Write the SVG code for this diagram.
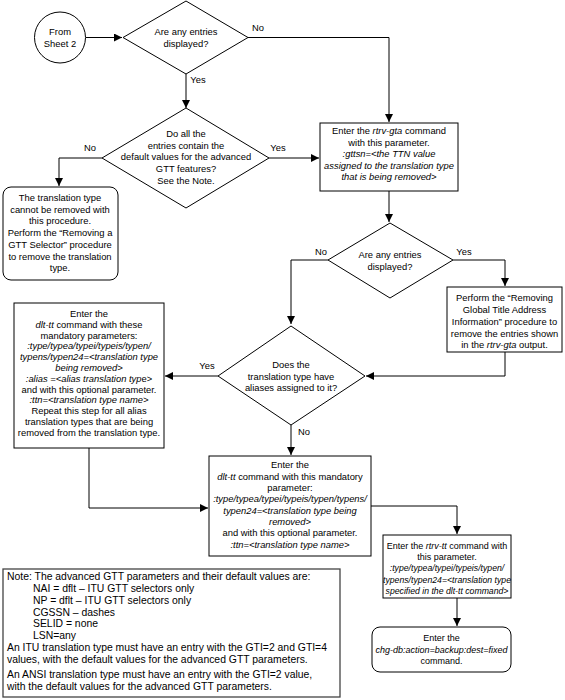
<svg xmlns="http://www.w3.org/2000/svg" width="565" height="700" viewBox="0 0 565 700">
<style>
text{font-family:"Liberation Sans",Arial,sans-serif;font-size:9.4px;fill:#000}
.c{text-anchor:middle}
.i{font-style:italic}
.n{font-size:10.4px}
.t{font-size:9px}
.u{font-size:8.7px}
.s{fill:#fff;stroke:#000;stroke-width:1}
.l{fill:none;stroke:#000;stroke-width:1}
</style>
<defs>
<marker id="a" viewBox="0 0 10 10" refX="10" refY="5" markerWidth="8" markerHeight="8" markerUnits="userSpaceOnUse" orient="auto">
<path d="M0,0 L10,5 L0,10 z" fill="#000"/>
</marker>
</defs>
<g id="connectors">
<path class="l" d="M86,37.5 L122,37.5" marker-end="url(#a)"/>
<path class="l" d="M248,37.5 L389,37.5 L389,122" marker-end="url(#a)"/>
<path class="l" d="M186,74 L186,108" marker-end="url(#a)"/>
<path class="l" d="M102,158 L59,158 L59,186" marker-end="url(#a)"/>
<path class="l" d="M269,158 L319,158" marker-end="url(#a)"/>
<path class="l" d="M389,191 L389,222" marker-end="url(#a)"/>
<path class="l" d="M328,260 L291,260 L291,324" marker-end="url(#a)"/>
<path class="l" d="M453,260 L505,260 L505,286" marker-end="url(#a)"/>
<path class="l" d="M505,352 L505,376 L366,376" marker-end="url(#a)"/>
<path class="l" d="M218,376 L165,376" marker-end="url(#a)"/>
<path class="l" d="M291,425 L291,455" marker-end="url(#a)"/>
<path class="l" d="M89,448 L89,508 L208,508" marker-end="url(#a)"/>
<path class="l" d="M371,506 L457,506 L457,534" marker-end="url(#a)"/>
<path class="l" d="M457,598 L457,626" marker-end="url(#a)"/>
<text x="258" y="31" class="c">No</text>
<text x="198" y="83" class="c">Yes</text>
<text x="90" y="151" class="c">No</text>
<text x="278" y="151" class="c">Yes</text>
<text x="321" y="255" class="c">No</text>
<text x="464" y="255" class="c">Yes</text>
<text x="207" y="369" class="c">Yes</text>
<text x="304" y="435" class="c">No</text>
</g>
<g id="start">
<circle class="s" cx="60" cy="37.5" r="25.5"/>
<text x="60" y="35" class="c">From</text>
<text x="60" y="47" class="c">Sheet 2</text>
</g>
<g id="d1">
<polygon class="s" points="186,1 248,37.5 186,74 123,37.5"/>
<text x="186" y="35" class="c">Are any entries</text>
<text x="186" y="47" class="c">displayed?</text>
</g>
<g id="d2">
<polygon class="s" points="186,108 269,158 186,208 102,158"/>
<text x="186" y="137" class="c">Do all the</text>
<text x="186" y="149" class="c">entries contain the</text>
<text x="186" y="160" class="c">default values for the advanced</text>
<text x="186" y="172" class="c">GTT features?</text>
<text x="186" y="184" class="c">See the Note.</text>
</g>
<g id="cannot">
<rect class="s" x="3" y="187" width="115" height="93" rx="8"/>
<text x="60" y="201" class="c">The translation type</text>
<text x="60" y="213" class="c">cannot be removed with</text>
<text x="60" y="224" class="c">this procedure.</text>
<text x="60" y="236" class="c">Perform the “Removing a</text>
<text x="60" y="248" class="c">GTT Selector” procedure</text>
<text x="60" y="260" class="c">to remove the translation</text>
<text x="60" y="271" class="c">type.</text>
</g>
<g id="rtrvgta">
<rect class="s" x="320" y="123" width="138" height="68"/>
<text x="389" y="134" class="c">Enter the <tspan class="i">rtrv-gta</tspan> command</text>
<text x="389" y="146" class="c">with this parameter.</text>
<text x="389" y="157" class="c i">:gttsn=&lt;the TTN value</text>
<text x="389" y="169" class="c i">assigned to the translation type</text>
<text x="389" y="180" class="c i">that is being removed&gt;</text>
</g>
<g id="d3">
<polygon class="s" points="390,223 453,260 390,298 328,260"/>
<text x="390" y="258" class="c">Are any entries</text>
<text x="390" y="270" class="c">displayed?</text>
</g>
<g id="perform">
<rect class="s" x="447" y="287" width="115" height="65"/>
<text x="504.5" y="301" class="c">Perform the “Removing</text>
<text x="504.5" y="313" class="c">Global Title Address</text>
<text x="504.5" y="325" class="c">Information” procedure to</text>
<text x="504.5" y="337" class="c">remove the entries shown</text>
<text x="504.5" y="348" class="c">in the <tspan class="i">rtrv-gta</tspan> output.</text>
</g>
<g id="d4">
<polygon class="s" points="291,326 365,376 291,425 218,376"/>
<text x="291" y="368" class="c">Does the</text>
<text x="291" y="380" class="c">translation type have</text>
<text x="291" y="391" class="c">aliases assigned to it?</text>
</g>
<g id="dltalias">
<rect class="s" x="14" y="303" width="150" height="145"/>
<text x="89" y="317" class="c">Enter the</text>
<text x="89" y="328" class="c"><tspan class="i">dlt-tt</tspan> command with these</text>
<text x="89" y="339" class="c">mandatory parameters:</text>
<text x="89" y="349" class="c i">:type/typea/typei/typeis/typen/</text>
<text x="89" y="360" class="c i">typens/typen24=&lt;translation type</text>
<text x="89" y="371" class="c i">being removed&gt;</text>
<text x="89" y="382" class="c"><tspan class="i">:alias =&lt;alias translation typ</tspan>e&gt;</text>
<text x="89" y="393" class="c">and with this optional parameter.</text>
<text x="89" y="403" class="c i">:ttn=&lt;translation type name&gt;</text>
<text x="89" y="414" class="c">Repeat this step for all alias</text>
<text x="89" y="425" class="c">translation types that are being</text>
<text x="89" y="436" class="c">removed from the translation type.</text>
</g>
<g id="dltmain">
<rect class="s" x="209" y="456" width="162" height="100"/>
<text x="290" y="468" class="c">Enter the</text>
<text x="290" y="480" class="c"><tspan class="i">dlt-tt</tspan> command with this mandatory</text>
<text x="290" y="491" class="c">parameter:</text>
<text x="290" y="502" class="c i">:type/typea/typei/typeis/typen/typens/</text>
<text x="290" y="514" class="c i">typen24=&lt;translation type being</text>
<text x="290" y="525" class="c i">removed&gt;</text>
<text x="290" y="536" class="c">and with this optional parameter.</text>
<text x="290" y="548" class="c i">:ttn=&lt;translation type name&gt;</text>
</g>
<g id="rtrvtt">
<rect class="s" x="383" y="535" width="128" height="63"/>
<text x="447" y="549" class="c t">Enter the <tspan class="i">rtrv-tt</tspan> command with</text>
<text x="447" y="560" class="c t">this parameter.</text>
<text x="447" y="571" class="c i u">:type/typea/typei/typeis/typen/</text>
<text x="447" y="583" class="c i u">typens/typen24=&lt;translation type</text>
<text x="447" y="594" class="c i u">specified in the dlt-tt command&gt;</text>
</g>
<g id="chgdb">
<rect class="s" x="372" y="627" width="139" height="45" rx="8"/>
<text x="441.5" y="641" class="c t">Enter the</text>
<text x="441.5" y="653" class="c i t">chg-db:action=backup:dest=fixed</text>
<text x="441.5" y="664" class="c t">command.</text>
</g>
<g id="note">
<rect x="3" y="569" width="337" height="128" fill="#fff" stroke="#444" stroke-width="1.3"/>
<text class="n" x="7" y="580">Note: The advanced GTT parameters and their default values are:</text>
<text class="n" x="33" y="592">NAI = dflt – ITU GTT selectors only</text>
<text class="n" x="33" y="604">NP = dflt – ITU GTT selectors only</text>
<text class="n" x="33" y="616">CGSSN – dashes</text>
<text class="n" x="33" y="627">SELID = none</text>
<text class="n" x="33" y="639">LSN=any</text>
<text class="n" x="7" y="651">An ITU translation type must have an entry with the GTI=2 and GTI=4</text>
<text class="n" x="7" y="663">values, with the default values for the advanced GTT parameters.</text>
<text class="n" x="7" y="678">An ANSI translation type must have an entry with the GTI=2 value,</text>
<text class="n" x="7" y="690">with the default values for the advanced GTT parameters.</text>
</g>
</svg>
